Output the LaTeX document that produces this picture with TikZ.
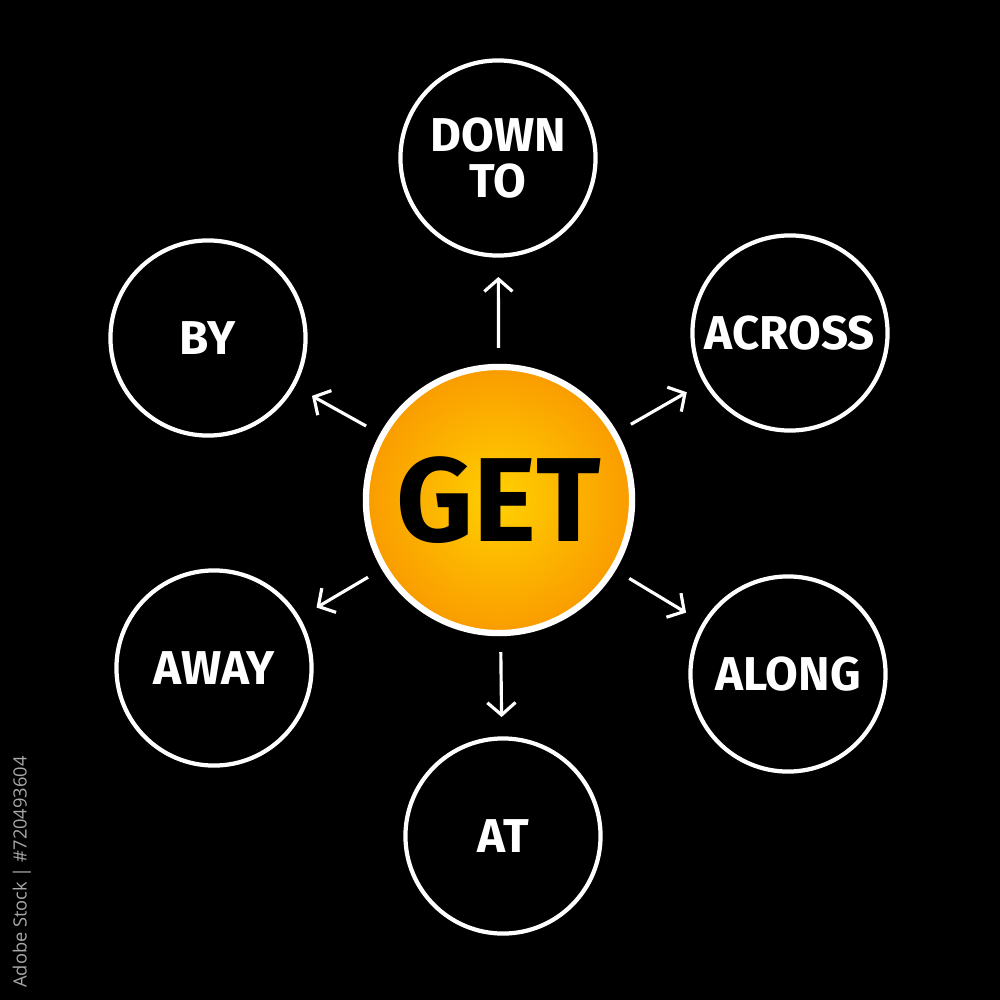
\documentclass[tikz,border=0pt]{standalone}
\usepackage{fontspec}
\setmainfont{Fira Sans}
\newfontfamily\idfont{Open Sans}
\usetikzlibrary{arrows.meta}
\definecolor{ringyellow}{HTML}{FFD000}
\definecolor{ringorange}{HTML}{FA9C00}
\definecolor{idgray}{HTML}{A8A8A8}
\begin{document}
\begin{tikzpicture}[x=0.01cm,y=-0.01cm,
  leaf/.style={circle,draw=white,line width=1.2pt,minimum size=1.95cm,inner sep=0pt,
    text=white,font=\bfseries\fontsize{13.5}{14}\selectfont,align=center},
  hub/.style={circle,draw=white,line width=1.8pt,minimum size=2.66cm,inner sep=0pt,
    inner color=ringyellow,outer color=ringorange,text=black,font=\bfseries\fontsize{34}{36}\selectfont},
  link/.style={draw=white,line width=0.9pt,-{Straight Barb[length=3.5pt,width=8pt,line width=0.9pt]},
    shorten <=4.5pt,shorten >=5.5pt}
]
\fill[black] (0,0) rectangle (1000,1000);
\useasboundingbox (0,0) rectangle (1000,1000);
\node[hub] (get) at (499,500) {GET};
\node[leaf] (down) at (498,158) {DOWN\\[-1pt]TO};
\node[leaf] (by) at (208,338) {BY};
\node[leaf] (across) at (790,333) {ACROSS};
\node[leaf] (away) at (214,668) {AWAY};
\node[leaf] (along) at (788,674) {ALONG};
\node[leaf] (at) at (503,836) {AT};
\foreach \t in {down,by,across,away,along,at}
  \draw[link] (get) -- (\t);
\node[rotate=90,text=idgray,font=\idfont\fontsize{5.2}{6}\selectfont,inner sep=0pt] (id) at (22,872) {Adobe Stock | \#720493604};
\end{tikzpicture}
\end{document}
